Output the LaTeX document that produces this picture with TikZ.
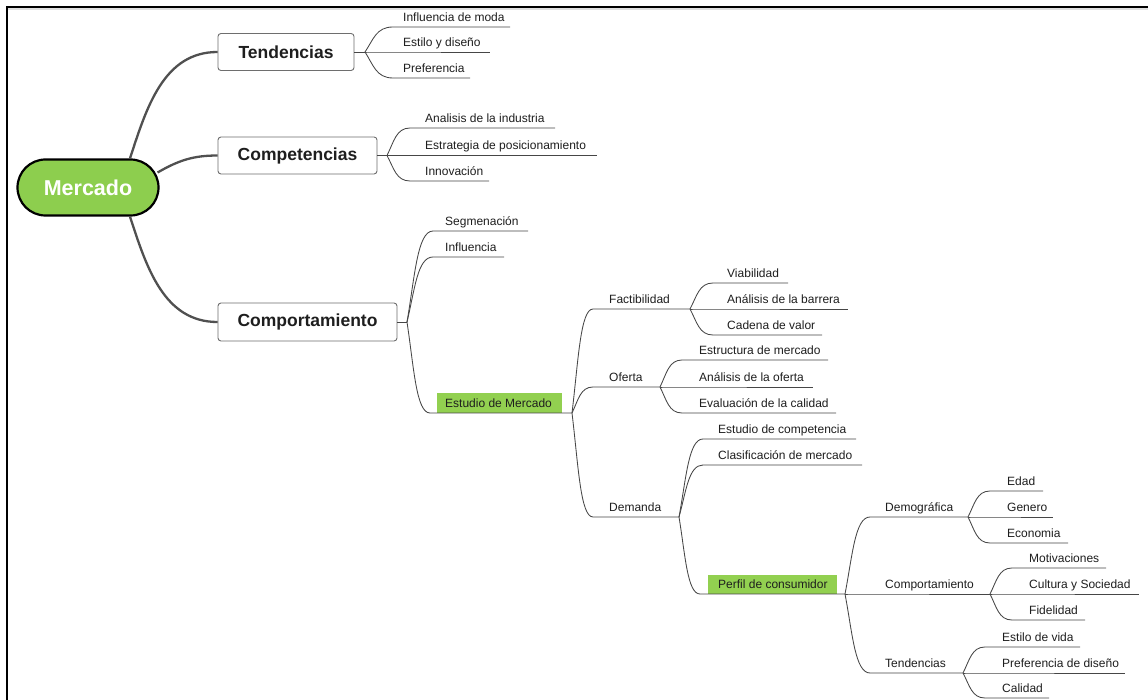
\documentclass[tikz,border=0pt]{standalone}
\usepackage{fontspec}
\setmainfont{Liberation Sans}
\usetikzlibrary{calc}
\definecolor{mgreen}{RGB}{141,206,78}
\definecolor{hgreen}{RGB}{146,208,80}
\definecolor{linec}{RGB}{70,70,70}
\definecolor{bigc}{RGB}{80,80,80}
\definecolor{boxc}{RGB}{110,110,110}
\definecolor{txt}{RGB}{30,30,30}
\newcommand\mleaf[7]{% name, fork, x0, tx, x1, y, text
  \coordinate (#1s) at (#3,#6);
  \coordinate (#1e) at (#5,#6);
  \node[leaf] (#1) at (#4,{#6-5.5}) {#7};
  \draw[sub] (#2) to[br] (#1s) -- (#1e);}
\begin{document}
\begin{tikzpicture}[x=1pt,y=-1pt,
  leaf/.style={anchor=base west, inner sep=0pt, font=\fontsize{12}{12}\selectfont, text=txt},
  sub/.style={draw=linec, line width=0.85pt},
  bigline/.style={draw=bigc, line width=2.3pt},
  mainbox/.style={draw=boxc, line width=0.9pt, fill=white, rounded corners=3pt, font=\bfseries\fontsize{17.5}{18}\selectfont, text=txt, inner sep=0pt},
  hlbox/.style={fill=hgreen, inner sep=0pt, anchor=south west},
  br/.style={to path={let \p1=(\tikztostart), \p2=(\tikztotarget) in .. controls ({\x1+0.3*(\x2-\x1)},{\y1+0.5*(\y2-\y1)}) and ({\x1+0.4*(\x2-\x1)},{\y2}) .. (\tikztotarget)}}
]
\useasboundingbox (0,0) rectangle (1148,700);
\fill[white] (0,0) rectangle (1148,700);
% frame
\fill[black!12] (7,8) rectangle (1148,10.5);
\draw[black, line width=2pt] (1148,7) -- (7,7) -- (7,700);

% root and main boxes
\node[draw=black, line width=2.2pt, fill=mgreen, rounded corners=28pt, minimum width=141, minimum height=56, inner sep=0pt, font=\bfseries\fontsize{21.5}{22}\selectfont, text=white] (merc) at (88,187.5) {Mercado};
\node[mainbox, minimum width=136, minimum height=37] (tend) at (286,52) {Tendencias};
\node[mainbox, minimum width=159, minimum height=37] (comp) at (297.5,155.5) {Competencias};
\node[mainbox, minimum width=179, minimum height=38] (cmpt) at (307.5,322) {Comportamiento};

\coordinate (m1) at ($(merc.north)+(42,0)$);
\coordinate (m2) at ($(merc.east)+(-2,-15)$);
\coordinate (m3) at ($(merc.south)+(42,0)$);
\draw[bigline] (m1) to[out=72,in=180] (tend.west);
\draw[bigline] (m2) to[out=30,in=180] (comp.west);
\draw[bigline] (m3) to[out=-72,in=180] (cmpt.west);

% Tendencias
\coordinate (tF) at (365,52);
\draw[sub] (tend.east) -- (tF);
\mleaf{t1}{tF}{393}{403}{510}{27}{Influencia de moda}
\mleaf{t2}{tF}{393}{403}{490}{52}{Estilo y diseño}
\mleaf{t3}{tF}{393}{403}{470}{78}{Preferencia}

% Competencias
\coordinate (cF) at (387,155.5);
\draw[sub] (comp.east) -- (cF);
\mleaf{c1}{cF}{410}{425}{555}{128}{Analisis de la industria}
\mleaf{c2}{cF}{410}{425}{597}{155.5}{Estrategia de posicionamiento}
\mleaf{c3}{cF}{410}{425}{489}{181}{Innovación}

% Comportamiento
\coordinate (pF) at (407,322);
\draw[sub] (cmpt.east) -- (pF);
\mleaf{p1}{pF}{433}{445}{528}{231}{Segmenación}
\mleaf{p2}{pF}{433}{445}{504}{257}{Influencia}
\node[hlbox, minimum width=125, minimum height=20] (p3box) at (437,413) {};
\mleaf{p3}{pF}{430}{445}{572}{413}{Estudio de Mercado}

% Estudio de Mercado
\mleaf{e1}{p3e}{593}{609}{690}{309}{Factibilidad}
\mleaf{e2}{p3e}{593}{609}{660}{387}{Oferta}
\mleaf{e3}{p3e}{593}{609}{679}{517}{Demanda}

% Factibilidad
\mleaf{f1}{e1e}{713}{727}{788}{283}{Viabilidad}
\mleaf{f2}{e1e}{713}{727}{848}{309}{Análisis de la barrera}
\mleaf{f3}{e1e}{713}{727}{822}{335}{Cadena de valor}

% Oferta
\mleaf{o1}{e2e}{682}{699}{828}{360}{Estructura de mercado}
\mleaf{o2}{e2e}{682}{699}{813}{387}{Análisis de la oferta}
\mleaf{o3}{e2e}{682}{699}{836}{413}{Evaluación de la calidad}

% Demanda
\mleaf{d1}{e3e}{703}{718}{856}{439}{Estudio de competencia}
\mleaf{d2}{e3e}{703}{718}{862}{465}{Clasificación de mercado}
\node[hlbox, minimum width=129, minimum height=19] (d3box) at (708,594) {};
\mleaf{d3}{e3e}{700}{718}{845}{594}{Perfil de consumidor}

% Perfil de consumidor
\mleaf{q1}{d3e}{870}{885}{968}{517}{Demográfica}
\mleaf{q2}{d3e}{870}{885}{990}{594}{Comportamiento}
\mleaf{q3}{d3e}{870}{885}{963}{673}{Tendencias}

% Demografica
\mleaf{g1}{q1e}{990}{1007}{1043}{491}{Edad}
\mleaf{g2}{q1e}{990}{1007}{1053}{517}{Genero}
\mleaf{g3}{q1e}{990}{1007}{1068}{543}{Economia}

% Comportamiento (perfil)
\mleaf{h1}{q2e}{1012}{1029}{1106}{568}{Motivaciones}
\mleaf{h2}{q2e}{1012}{1029}{1139}{594}{Cultura y Sociedad}
\mleaf{h3}{q2e}{1012}{1029}{1085}{620}{Fidelidad}

% Tendencias (perfil)
\mleaf{k1}{q3e}{985}{1002}{1080}{647}{Estilo de vida}
\mleaf{k2}{q3e}{985}{1002}{1125}{673}{Preferencia de diseño}
\mleaf{k3}{q3e}{985}{1002}{1049}{698}{Calidad}
\end{tikzpicture}
\end{document}
